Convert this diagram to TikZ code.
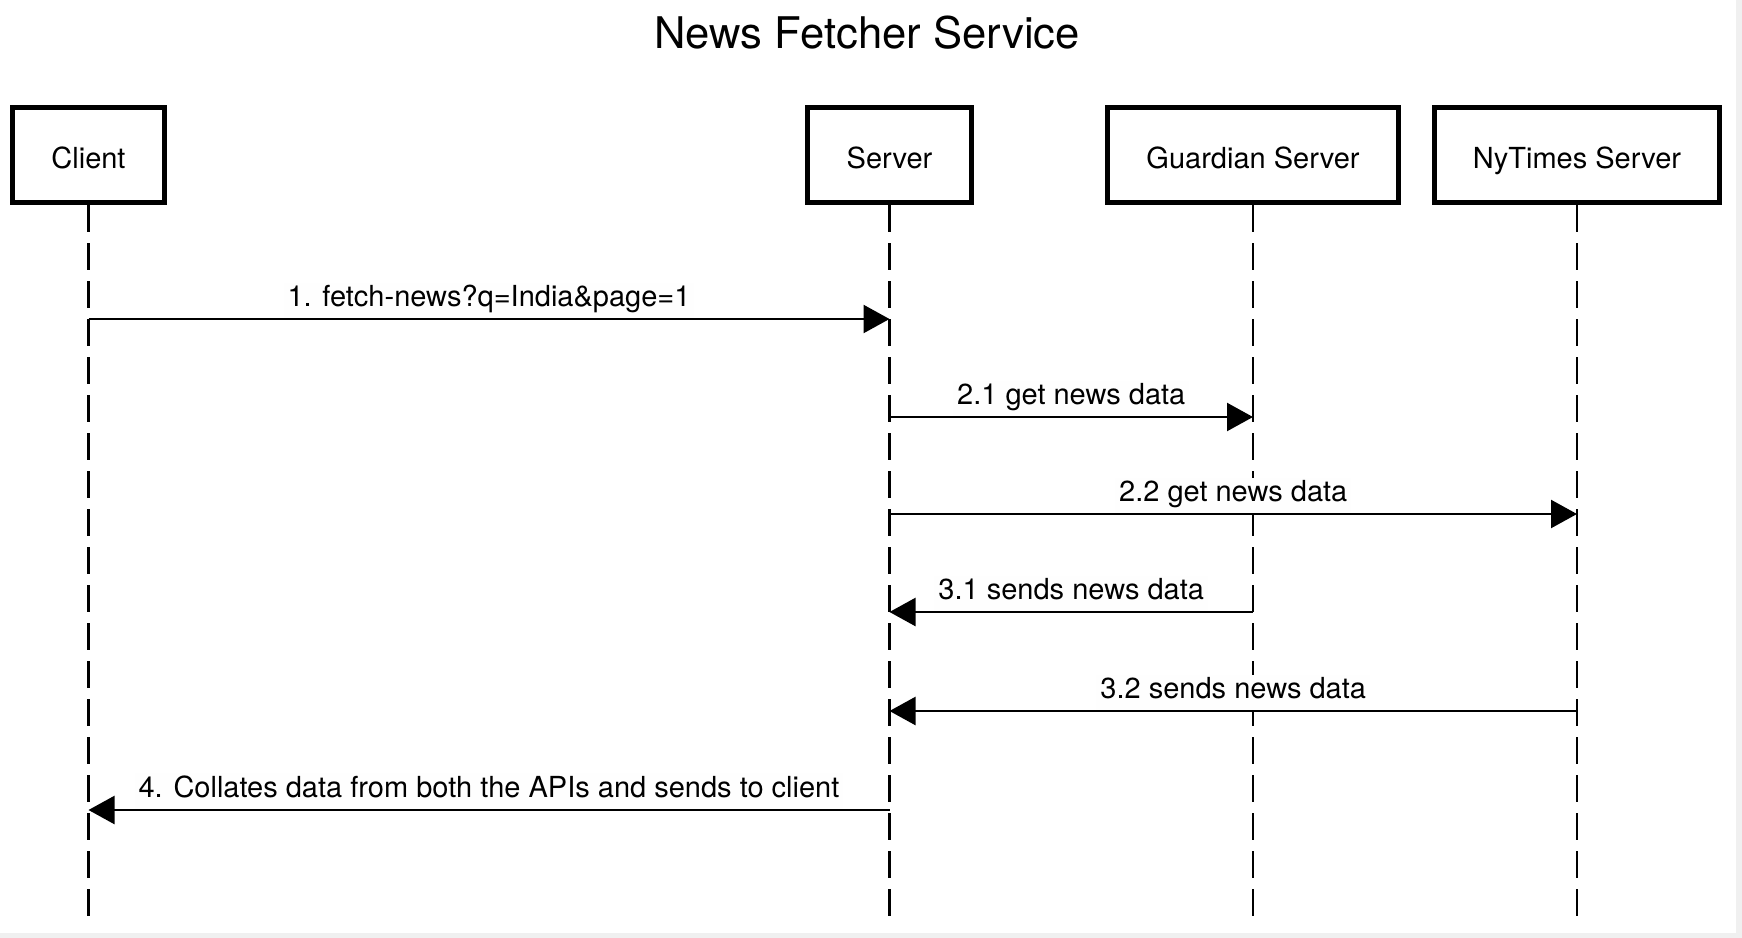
\documentclass[tikz,border=0pt]{standalone}
\usepackage{fontspec}
\setmainfont{TeX Gyre Heros}
\usetikzlibrary{arrows.meta,positioning}
\definecolor{paper}{RGB}{254,254,254}
\tikzset{%
	actor/.style    = {draw, rectangle, line width=2.5pt, minimum height=47.5pt, inner sep=0pt, text height=14pt, text depth=1pt, font=\fontsize{14.5}{17}\selectfont}, % Participant
	lifeline/.style = {line width=1.4pt, dash pattern=on 13.5pt off 5.5pt}, % Lifeline
	msg/.style      = {line width=1.2pt, -{Triangle[length=13pt,width=14pt]}}, % Message
	msglabel/.style = {behind path, anchor=base, yshift=6.5pt, fill=paper, inner xsep=2pt, inner ysep=1pt, text depth=5.8pt, font=\fontsize{14.5}{17}\selectfont}, % Message text
}

\begin{document}
\begin{tikzpicture}[x=0.5pt,y=-0.5pt]
	\useasboundingbox (0,0) rectangle (1742,938);
	\fill[black!6] (0,0) rectangle (1742,938);
	\fill[white] (0,0) rectangle (1736,933);
	
	\node [anchor=base, font=\fontsize{21.8}{26}\selectfont] (title) at (867,48) {News Fetcher Service};
	
	\node [actor, minimum width=76pt] (client) at (88.5,155) {Client};
	\node [actor, minimum width=82pt] (server) at (889.5,155) {Server};
	\node [actor, minimum width=145.75pt] (guardian) at (1253,155) {Guardian Server};
	\node [actor, minimum width=142.5pt] (nytimes) at (1577,155) {NyTimes Server};
	
	\foreach \a in {client,server,guardian,nytimes}
		\draw[lifeline] (\a.south) -- (\a |- 0,927);  % lifelines
	
	\draw[msg] (client |- 0,319) -- node[msglabel] {1. fetch-news?q=India\&page=1} (server |- 0,319);
	\draw[msg] (server |- 0,417) -- node[msglabel] {2.1 get news data} (guardian |- 0,417);
	\draw[msg] (server |- 0,514) -- node[msglabel] {2.2 get news data} (nytimes |- 0,514);
	\draw[msg] (guardian |- 0,612) -- node[msglabel] {3.1 sends news data} (server |- 0,612);
	\draw[msg] (nytimes |- 0,711) -- node[msglabel] {3.2 sends news data} (server |- 0,711);
	\draw[msg] (server |- 0,810) -- node[msglabel] {4. Collates data from both the APIs and sends to client} (client |- 0,810);
\end{tikzpicture}
\end{document}
